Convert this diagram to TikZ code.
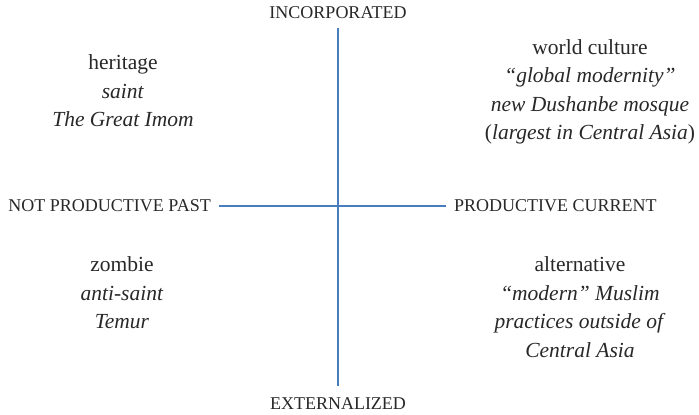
\documentclass[tikz,border=0pt]{standalone}
\usepackage{fontspec}
\setmainfont{Liberation Serif}
\usetikzlibrary{positioning}
\definecolor{axisblue}{RGB}{72,125,192}
\definecolor{inkgray}{RGB}{40,40,40}
\begin{document}
\begin{tikzpicture}[x=1pt,y=-1pt,node distance=4pt,text=inkgray]
        \tikzstyle{axis}=[draw=axisblue,line width=2pt]
        \tikzstyle{pole}=[inner sep=0pt,font=\fontsize{18}{21}\selectfont]
        \tikzstyle{quad}=[align=center,inner sep=0pt,font=\fontsize{21.5}{28.5}\selectfont]
        \useasboundingbox (0,0) rectangle (699,415);
        \coordinate (top) at (338,28);
        \coordinate (bot) at (338,386);
        \coordinate (lft) at (219,206);
        \coordinate (rgt) at (446,206);
        \draw[axis] (top) -- (bot);
        \draw[axis] (lft) -- (rgt);
        \node[pole,above=9pt of top](inc){INCORPORATED};
        \node[pole,below=11pt of bot](ext){EXTERNALIZED};
        \node[pole,left=8pt of lft](past){NOT PRODUCTIVE PAST};
        \node[pole,right=8pt of rgt](curr){PRODUCTIVE CURRENT};
        \node[quad](heritage) at (123,91){heritage\\\textit{saint}\\\textit{The Great Imom}};
        \node[quad](world) at (590,92){world culture\\\textit{“global modernity”}\\\textit{new Dushanbe mosque}\\(\textit{largest in Central Asia})};
        \node[quad](zombie) at (122,293){zombie\\\textit{anti-saint}\\\textit{Temur}};
        \node[quad](alt) at (580,307){alternative\\\textit{“modern” Muslim}\\\textit{practices outside of}\\\textit{Central Asia}};
\end{tikzpicture}
\end{document}
